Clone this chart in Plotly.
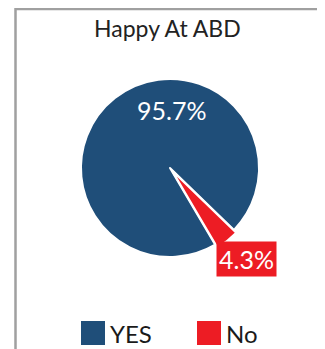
import plotly.graph_objects as go

labels = ["YES", "No"]
values = [95.7, 4.3]
colors = ["#1F4E79", "#ED1C24"]
title_text = "Happy At ABD"

# page body has an 8px margin, so the figure is offset by 8px
OFF = 8
W, H = 325 - OFF, 349 - OFF

def px(x):
    return (x - OFF) / W

def py(y):
    return 1 - (y - OFF) / H

total = sum(values)
pct = [f"{v / total * 100:.1f}%" for v in values]

fig = go.Figure(go.Pie(
    labels=labels,
    values=values,
    marker=dict(colors=colors, line=dict(color="white", width=2)),
    sort=False,
    direction="clockwise",
    rotation=149.5,
    pull=[0, 0.04],
    textinfo="none",
    hoverinfo="label+percent",
    domain=dict(x=[px(77.4), px(262.6)], y=[py(260.6), py(75.4)]),
    showlegend=False,
))

font_family = "Lato, 'Open Sans', sans-serif"

annotations = [
    dict(text=title_text, x=px(167), y=py(28), xref="paper", yref="paper",
         showarrow=False, font=dict(family=font_family, size=23, color="#222222"),
         xanchor="center", yanchor="middle"),
    dict(text=pct[0], x=px(171), y=py(110), xref="paper", yref="paper",
         showarrow=False, font=dict(family=font_family, size=25, color="white"),
         xanchor="center", yanchor="middle"),
    dict(text=pct[1], x=px(246.5), y=py(259), xref="paper", yref="paper",
         showarrow=False, font=dict(family=font_family, size=25, color="white"),
         bgcolor=colors[1], borderpad=2, xanchor="center", yanchor="middle"),
]

shapes = [
    dict(type="rect", xref="paper", yref="paper",
         x0=px(15.5), x1=px(319), y0=py(370), y1=py(9),
         line=dict(color="#A0A0A0", width=2.5), fillcolor="rgba(0,0,0,0)"),
]

# custom legend
leg_x = [81, 197]
for i, lab in enumerate(labels):
    shapes.append(dict(type="rect", xref="paper", yref="paper",
                       x0=px(leg_x[i]), x1=px(leg_x[i] + 24), y0=py(345), y1=py(321),
                       line=dict(width=0), fillcolor=colors[i]))
    annotations.append(dict(text=lab, x=px(leg_x[i] + 27), y=py(333), xref="paper", yref="paper",
                            showarrow=False, font=dict(family=font_family, size=24, color="#1a1a1a"),
                            xanchor="left", yanchor="middle"))

fig.update_layout(
    width=W, height=H,
    margin=dict(l=0, r=0, t=0, b=0),
    paper_bgcolor="white",
    plot_bgcolor="white",
    annotations=annotations,
    shapes=shapes,
)

fig.write_html("out.html")
